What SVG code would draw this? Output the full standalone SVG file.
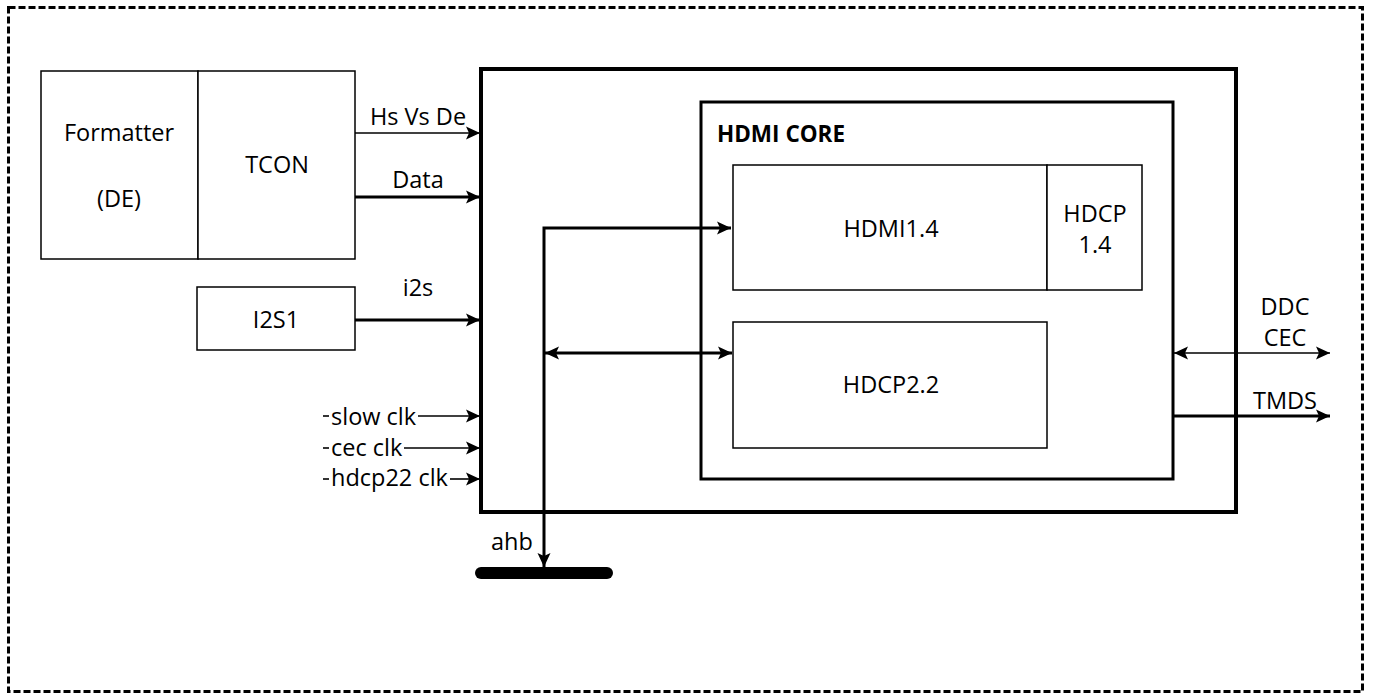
<svg xmlns="http://www.w3.org/2000/svg" width="1373" height="700" viewBox="0 0 1373 700">
<style>
text{font-family:"Open Sans","Liberation Sans",sans-serif;font-size:23.5px;fill:#000}
.c{text-anchor:middle}
.b{font-weight:bold;font-size:22.5px}
.box{fill:#fff;stroke:#000;stroke-width:1.5}
.thin{stroke:#000;stroke-width:1.6;fill:none}
.thick{stroke:#000;stroke-width:3;fill:none}
</style>
<defs>
<marker id="ah" markerUnits="userSpaceOnUse" markerWidth="16" markerHeight="16" refX="14" refY="8" orient="auto-start-reverse">
<path d="M0,1.5 L14,8 L0,14.5 L3,8 z" fill="#000"/>
</marker>
</defs>
<rect x="8.5" y="7.5" width="1354" height="684" fill="none" stroke="#000" stroke-width="3" stroke-dasharray="7 3"/>

<g id="formatter"><rect class="box" x="41" y="71" width="157" height="188"/>
<text class="c" x="119" y="141">Formatter</text><text class="c" x="119" y="207">(DE)</text></g>
<g id="tcon"><rect class="box" x="198" y="71" width="157" height="188"/>
<text class="c" x="277" y="173">TCON</text></g>
<g id="i2s1"><rect class="box" x="197" y="287" width="158" height="63"/>
<text class="c" x="276" y="328">I2S1</text></g>

<g id="hdmi-top"><rect x="481" y="69" width="755" height="443" fill="#fff" stroke="#000" stroke-width="4"/></g>
<g id="hdmi-core"><rect x="701" y="102" width="472" height="377" fill="#fff" stroke="#000" stroke-width="3"/>
<text class="b" x="717" y="142">HDMI CORE</text></g>
<g id="hdmi14"><rect class="box" x="733" y="165" width="314" height="125"/>
<text class="c" x="891" y="237">HDMI1.4</text></g>
<g id="hdcp14"><rect class="box" x="1047" y="165" width="95" height="125"/>
<text class="c" x="1095" y="222">HDCP</text><text class="c" x="1095" y="253">1.4</text></g>
<g id="hdcp22"><rect class="box" x="733" y="322" width="314" height="126"/>
<text class="c" x="891" y="393">HDCP2.2</text></g>
<g id="ahb"><line x1="481" y1="573" x2="607" y2="573" stroke="#000" stroke-width="12" stroke-linecap="round"/>
<text class="c" x="512" y="550">ahb</text></g>

<g id="connectors">
<line class="thin" x1="355" y1="133" x2="480" y2="133" marker-end="url(#ah)"/>
<text class="c" x="418" y="125">Hs Vs De</text>
<line class="thick" x1="355" y1="197" x2="480" y2="197" marker-end="url(#ah)"/>
<text class="c" x="418" y="188">Data</text>
<line class="thick" x1="355" y1="320" x2="480" y2="320" marker-end="url(#ah)"/>
<text class="c" x="418" y="296">i2s</text>

<line class="thin" x1="323" y1="416" x2="329" y2="416"/>
<text x="331" y="425">slow clk</text>
<line class="thin" x1="418" y1="416" x2="480" y2="416" marker-end="url(#ah)"/>
<line class="thin" x1="323" y1="448" x2="329" y2="448"/>
<text x="331" y="456">cec clk</text>
<line class="thin" x1="404" y1="448" x2="480" y2="448" marker-end="url(#ah)"/>
<line class="thin" x1="323" y1="479" x2="329" y2="479"/>
<text x="331" y="486">hdcp22 clk</text>
<line class="thin" x1="450" y1="479" x2="480" y2="479" marker-end="url(#ah)"/>

<polyline class="thick" points="544,567 544,228 731,228" marker-start="url(#ah)" marker-end="url(#ah)"/>
<line class="thick" x1="545" y1="353" x2="732" y2="353" marker-start="url(#ah)" marker-end="url(#ah)"/>

<line class="thin" x1="1174" y1="353" x2="1330" y2="353" stroke-width="2" marker-start="url(#ah)" marker-end="url(#ah)"/>
<text class="c" x="1285" y="315">DDC</text>
<text class="c" x="1285" y="346">CEC</text>
<line class="thick" x1="1173" y1="416" x2="1330" y2="416" marker-end="url(#ah)"/>
<text class="c" x="1285" y="409">TMDS</text>
</g>
</svg>
